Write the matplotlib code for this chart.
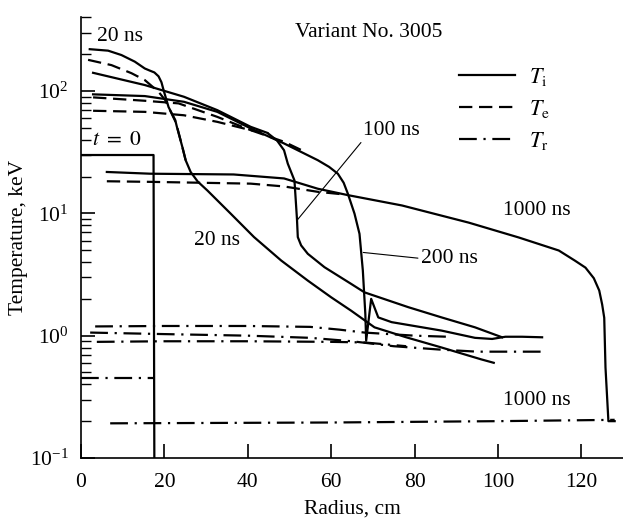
import numpy as np
import matplotlib.pyplot as plt
from matplotlib.ticker import LogLocator, LogFormatterMathtext, NullFormatter, MultipleLocator

plt.rcParams['font.family'] = 'serif'
plt.rcParams['font.serif'] = ['Liberation Serif', 'DejaVu Serif']
plt.rcParams['mathtext.fontset'] = 'stix'

# t = 0
r_t0 = [0, 17.4, 17.6]
Ti_t0 = [30, 30, 0.08]
r_t0_rad = [0, 17.4]
Tr_t0 = [0.45, 0.45]

# 20 ns
r_i20 = [2.1, 6.5, 9.7, 12.9, 15.3, 16.5, 17.6, 18.6, 19.3, 19.8, 21.0, 22.6, 23.0, 24.3, 25.1,
         26.3, 28.0, 30.3, 35.9, 41.5, 48.0, 54.4, 60.0, 64.8, 70.4, 78.0, 86.5, 96.0, 99.0]
Ti_20 = [220, 214, 197, 174, 153, 147, 142, 132, 118, 102, 74, 58, 51, 35, 27.2,
         21.8, 18.2, 15.4, 9.95, 6.4, 4.12, 2.82, 2.06, 1.6, 1.17, 0.97, 0.80, 0.64, 0.6]
r_e20 = [1.7, 7.3, 12.1, 15.3, 18.6, 20.2, 21.5, 22.8, 24.3, 25.1]
Te_20 = [180, 163, 140, 123, 98.6, 84.4, 68, 55, 35, 27.2]

# 100 ns
r_i100 = [2.9, 15.3, 24.7, 32.7, 40.7, 44.7, 47.0, 48.7, 49.6, 51.2, 51.8, 52.0, 52.8,
          54.4, 58.4, 64.8, 68.0, 78.5, 86.5, 94.5, 101.0]
Ti_100 = [141, 112, 89.8, 69.8, 51, 45.5, 39.5, 32.8, 25.5, 18.6, 9.0, 6.4, 5.47,
          4.67, 3.63, 2.65, 2.26, 1.71, 1.41, 1.17, 0.97]
r_e100 = [2.9, 15.3, 23.4, 32.7, 40.7, 45.0]
Te_100 = [88.8, 83.3, 79.3, 61.5, 47.9, 45.0]

# 200 ns
r_i200 = [2.9, 15.3, 24.7, 32.7, 40.7, 48.7, 56.8, 59.5, 61.6, 63.0, 64.0, 65.6, 66.8, 67.6,
          68.2, 68.4, 69.6, 71.3, 74.5, 86.5, 94.5, 98.6, 101.8, 105.8, 110.6]
Ti_200 = [94, 91, 81.7, 67.6, 49.5, 37.3, 27.2, 24.0, 21.1, 17.8, 14.5, 9.95, 6.8, 3.41,
          1.5, 0.91, 2.0, 1.41, 1.29, 1.1, 0.96, 0.94, 0.98, 0.98, 0.97]
r_e200 = [2.9, 15.3, 24.7, 32.7, 40.7, 48.7, 52.8]
Te_200 = [69, 67.6, 63.4, 56, 47.9, 38.5, 33.0]

# 1000 ns
r_i1000 = [6.2, 16.6, 36.6, 48.7, 56.8, 64.0, 77.0, 93.0, 105.0, 114.6, 118.5,
           121.0, 123.0, 124.3, 125.0, 125.5, 125.8, 126.5, 128.0]
Ti_1000 = [21.8, 21.1, 20.8, 19.3, 15.9, 14.1, 11.6, 8.4, 6.35, 4.97, 4.1,
           3.6, 2.95, 2.34, 1.8, 1.4, 0.55, 0.2, 0.2]
r_e1000 = [6.2, 16.6, 40.7, 48.7, 56.8, 62.0]
Te_1000 = [18.3, 18.1, 17.5, 16.6, 15.0, 14.4]
r_r1000 = [7, 60, 100, 128]
Tr_1000 = [0.192, 0.195, 0.2, 0.205]

# radiation temperature, 20/100/200 ns
r_ra = [3.4, 20, 40, 55, 62, 68, 80, 88]
Tr_a = [1.19, 1.2, 1.2, 1.18, 1.12, 1.06, 1.0, 0.98]
r_rb = [2.2, 20, 40, 55, 65, 75, 86, 95, 110.6]
Tr_b = [1.06, 1.03, 1.0, 0.96, 0.9, 0.82, 0.77, 0.74, 0.74]
r_rc = [3.8, 20, 40, 60, 68, 78]
Tr_c = [0.89, 0.9, 0.9, 0.89, 0.88, 0.82]

lw = 1.6
ls_e = (0, (6, 3))
ls_r = (0, (8, 3, 1, 3))
fs = 15.5

fig = plt.figure(figsize=(6.23, 5.24), dpi=100)
ax = fig.add_axes([0.130, 0.126, 0.870, 0.842])

ax.plot(r_t0, Ti_t0, c='k', lw=lw)
ax.plot(r_t0_rad, Tr_t0, c='k', lw=lw, ls=ls_r)

for r, T in [(r_i20, Ti_20), (r_i100, Ti_100), (r_i200, Ti_200), (r_i1000, Ti_1000)]:
    ax.plot(r, T, c='k', lw=lw)
for r, T in [(r_e20, Te_20), (r_e100, Te_100), (r_e200, Te_200), (r_e1000, Te_1000)]:
    ax.plot(r, T, c='k', lw=lw, ls=ls_e)
for r, T in [(r_ra, Tr_a), (r_rb, Tr_b), (r_rc, Tr_c), (r_r1000, Tr_1000)]:
    ax.plot(r, T, c='k', lw=lw, ls=ls_r)

ax.set_yscale('log')
ax.set_xlim(0, 130)
ax.set_ylim(0.1, 405)

ax.spines['top'].set_visible(False)
ax.spines['right'].set_visible(False)
ax.spines['left'].set_linewidth(1.2)
ax.spines['bottom'].set_linewidth(1.2)

ax.xaxis.set_major_locator(MultipleLocator(20))
ax.yaxis.set_major_locator(LogLocator(base=10, numticks=10))
ax.yaxis.set_minor_locator(LogLocator(base=10, subs=np.arange(2, 10), numticks=10))
ax.yaxis.set_major_formatter(LogFormatterMathtext())
ax.yaxis.set_minor_formatter(NullFormatter())
ax.tick_params(axis='both', which='major', direction='in', length=10, width=1.2,
               labelsize=fs)
ax.tick_params(axis='x', which='major', pad=11)
ax.tick_params(axis='y', which='major', pad=9)
ax.tick_params(axis='y', which='minor', direction='in', length=7, width=1.0)

ax.set_xlabel('Radius, cm', fontsize=fs, labelpad=5)
ax.set_ylabel('Temperature, keV', fontsize=fs, labelpad=1)

ax.text(9.4, 277, '20 ns', fontsize=fs, ha='center', va='center')
ax.text(8.6, 39.6, r'$t\ =\ 0$', fontsize=fs, ha='center', va='center')
ax.text(32.7, 6.0, '20 ns', fontsize=fs, ha='center', va='center')
ax.text(69, 299, 'Variant No. 3005', fontsize=fs, ha='center', va='center')
ax.text(109.4, 10.6, '1000 ns', fontsize=fs, ha='center', va='center')
ax.text(109.4, 0.293, '1000 ns', fontsize=fs, ha='center', va='center')
ax.annotate('100 ns', xy=(51.8, 8.76), xytext=(74.5, 47.8), fontsize=fs,
            ha='center', va='center',
            arrowprops=dict(arrowstyle='-', lw=0.8, color='k', relpos=(0.0, 0.0),
                            shrinkA=0, shrinkB=0))
ax.annotate('200 ns', xy=(67.7, 4.79), xytext=(88.3, 4.28), fontsize=fs,
            ha='center', va='center',
            arrowprops=dict(arrowstyle='-', lw=0.8, color='k', relpos=(0.0, 0.5),
                            shrinkA=0, shrinkB=0))

# legend
ax.plot([], [], c='k', lw=lw, label=r'$T_{\rm i}$')
ax.plot([], [], c='k', lw=lw, ls=ls_e, label=r'$T_{\rm e}$')
ax.plot([], [], c='k', lw=lw, ls=ls_r, label=r'$T_{\rm r}$')
handles, labels = ax.get_legend_handles_labels()
ax.legend(handles[-3:], labels[-3:], loc='upper left', bbox_to_anchor=(0.698, 0.888),
          frameon=False, fontsize=16, handlelength=2.5, handletextpad=0.65,
          labelspacing=0.45, borderpad=0, borderaxespad=0)

fig.savefig('out.png', dpi=100)
